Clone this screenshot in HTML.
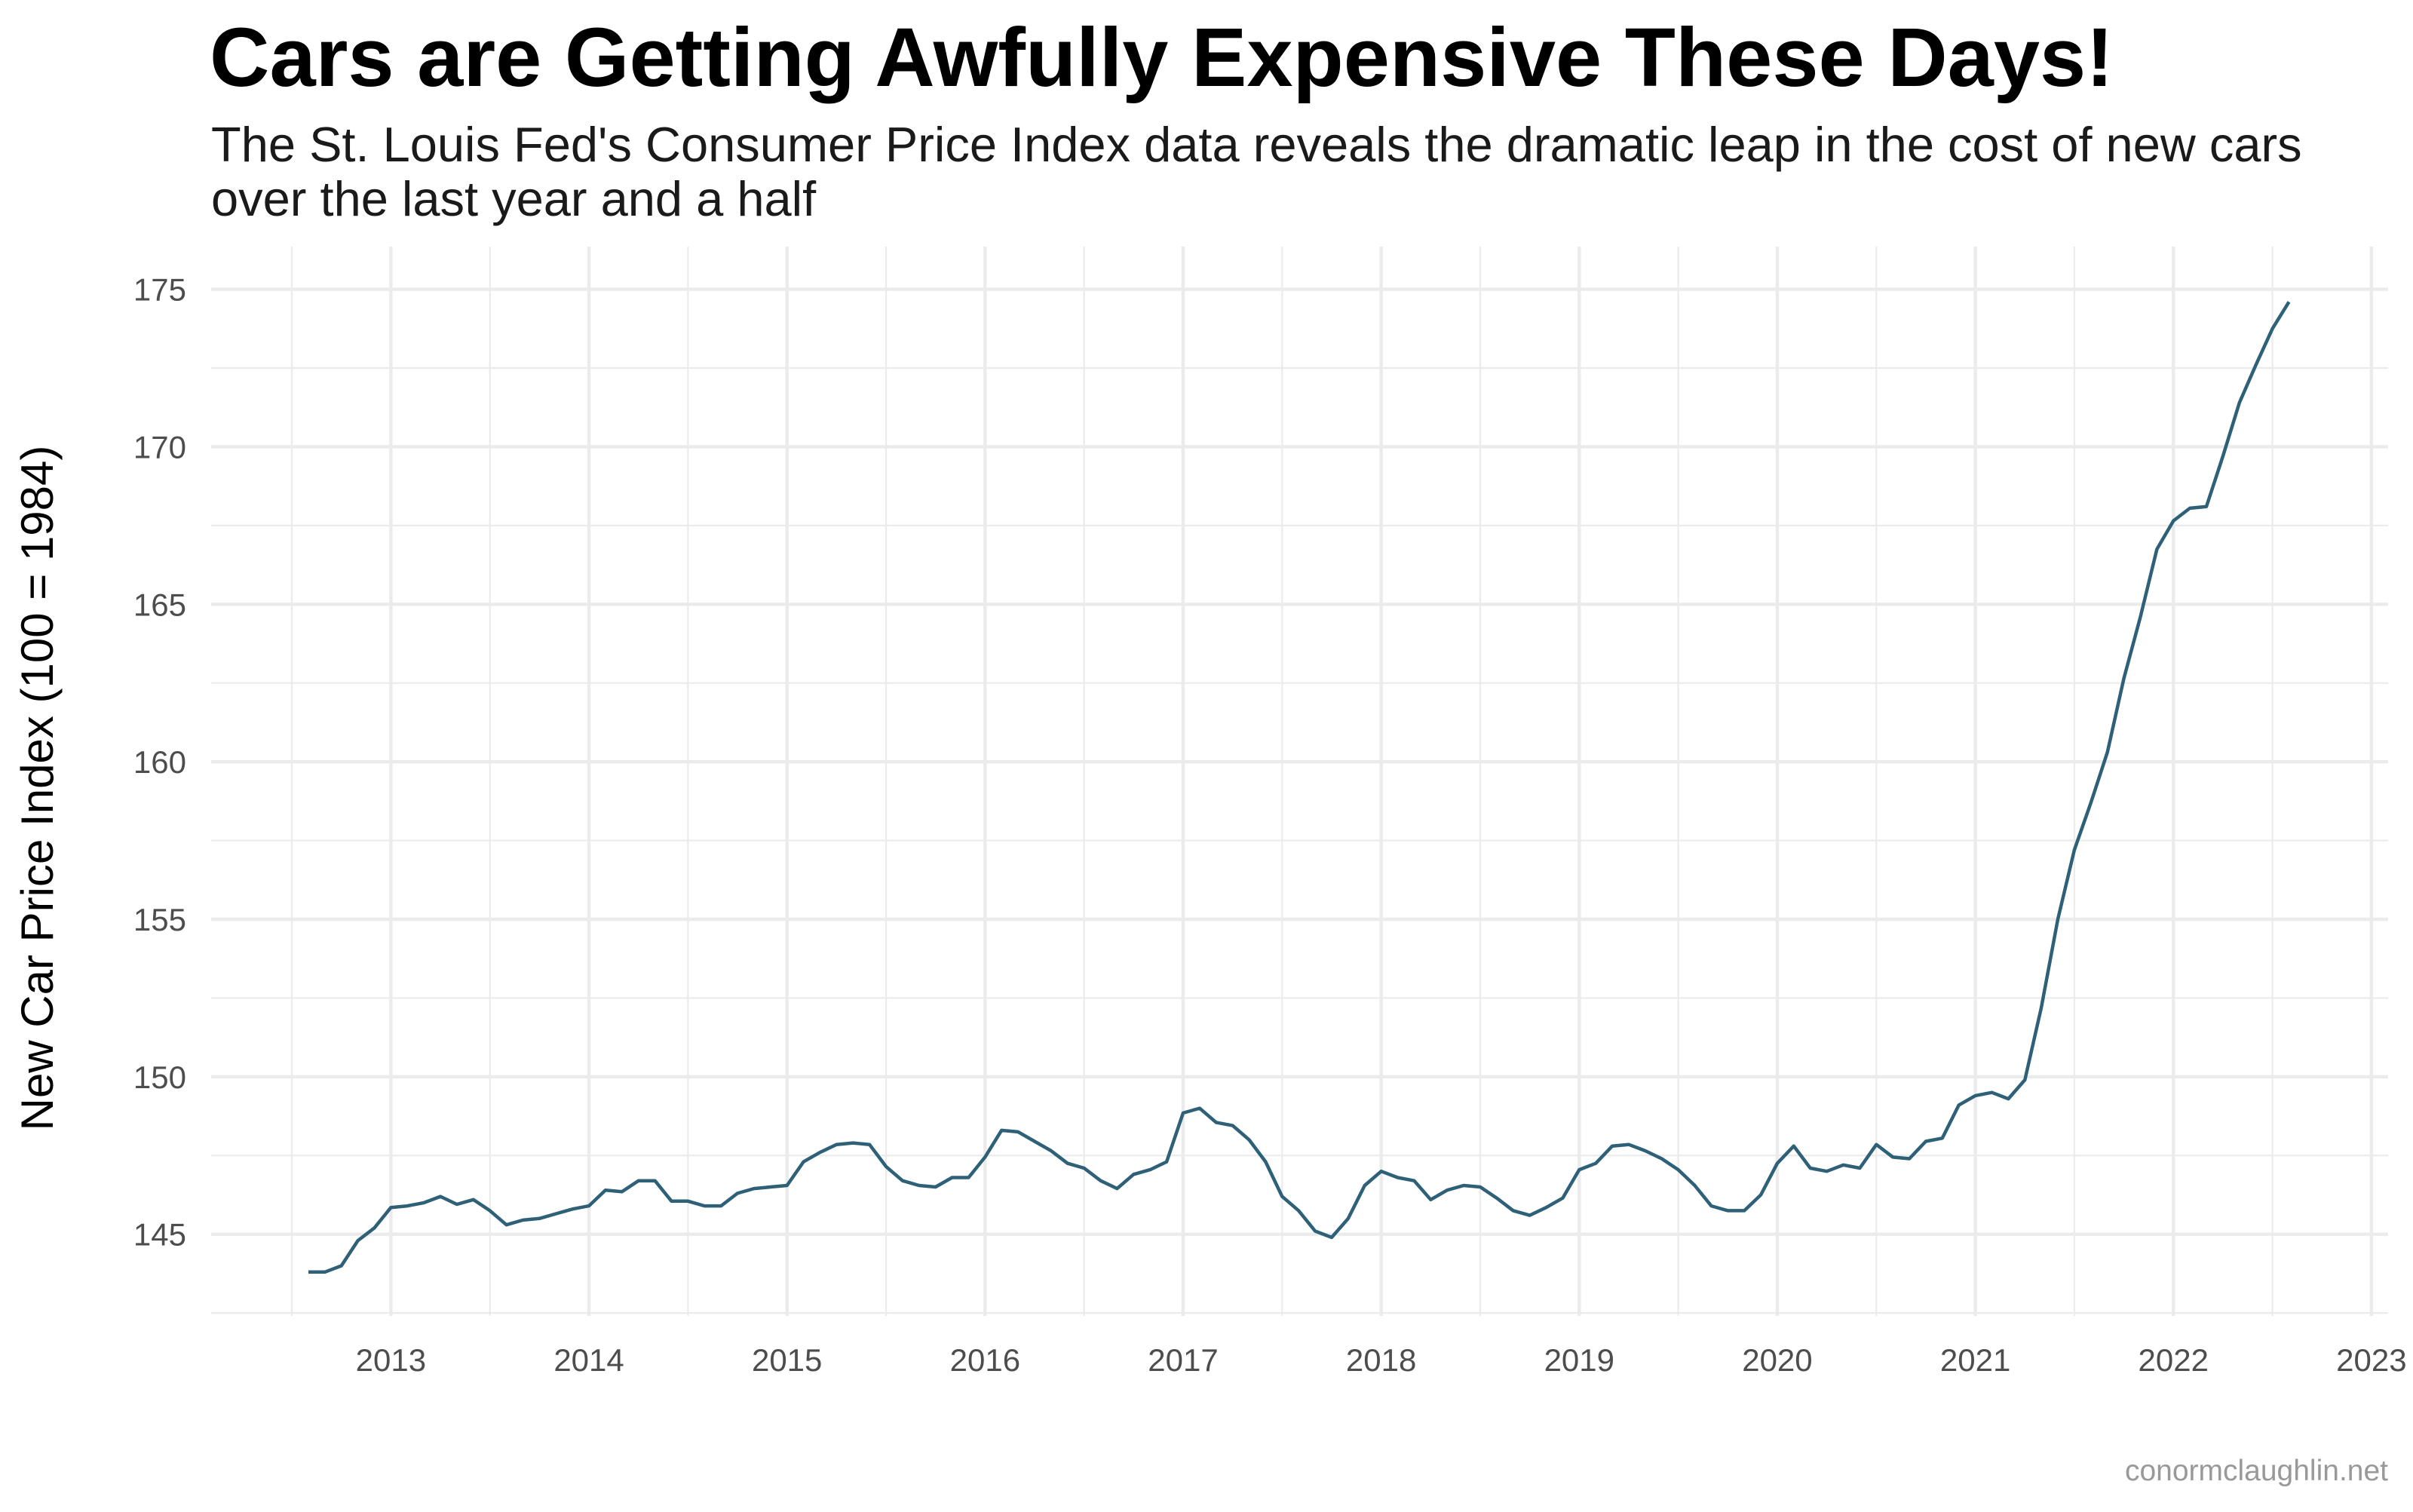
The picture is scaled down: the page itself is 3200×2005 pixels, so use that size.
<!DOCTYPE html>
<html><head><meta charset="utf-8"><style>
html,body{margin:0;padding:0;background:#fff;}
svg text{font-family:"Liberation Sans",Arial,sans-serif;}
</style></head><body>
<svg id="chart" width="3200" height="2000" viewBox="0 0 3200 2000" xmlns="http://www.w3.org/2000/svg">
<rect width="3200" height="2000" fill="#fff"/>
<text x="278" y="114" font-size="110" font-weight="bold" fill="#000">Cars are Getting Awfully Expensive These Days!</text>
<text x="280" y="214" font-size="65" fill="#1a1a1a">The St. Louis Fed's Consumer Price Index data reveals the dramatic leap in the cost of new cars</text>
<text x="280" y="286" font-size="65" fill="#1a1a1a">over the last year and a half</text>
<g id="grid"></g>
<g id="ticks"></g>
<path id="line" fill="none" stroke="#2e6178" stroke-width="4.5" stroke-linejoin="round"/>
<text transform="translate(70,1045) rotate(-90)" text-anchor="middle" font-size="60" fill="#000">New Car Price Index (100 = 1984)</text>
<text x="3167" y="1963" text-anchor="end" font-size="39" fill="#999">conormclaughlin.net</text>
</svg>
<script>
const startYear = 2012, startMonth = 8;
const values = [143.8,143.8,144.0,144.8,145.2,
145.85,145.9,146.0,146.2,145.95,146.1,145.75,145.3,145.45,145.5,145.65,145.8,
145.9,146.4,146.35,146.7,146.7,146.05,146.05,145.9,145.9,146.3,146.45,146.5,
146.55,147.3,147.6,147.85,147.9,147.85,147.15,146.7,146.55,146.5,146.8,146.8,
147.45,148.3,148.25,147.95,147.65,147.25,147.1,146.7,146.45,146.9,147.05,147.3,
148.85,149.0,148.55,148.45,148.0,147.3,146.2,145.75,145.1,144.9,145.5,146.55,
147.0,146.8,146.7,146.1,146.4,146.55,146.5,146.15,145.75,145.6,145.85,146.15,
147.05,147.25,147.8,147.85,147.65,147.4,147.05,146.55,145.9,145.75,145.75,146.25,
147.25,147.8,147.1,147.0,147.2,147.1,147.85,147.45,147.4,147.95,148.05,149.1,
149.4,149.5,149.3,149.9,152.2,155.0,157.2,158.7,160.3,162.65,164.6,166.75,
167.65,168.05,168.1,169.7,171.4,172.6,173.75,174.6];
const yTicks = [145,150,155,160,165,170,175];
const xTicks = [2013,2014,2015,2016,2017,2018,2019,2020,2021,2022,2023];

const L=280,R=3167,T=327,B=1745;
const X = t => 518.4 + (t-2013)*262.65;
const Y = v => 1636.7 - (v-145)*41.77;
const NS='http://www.w3.org/2000/svg';
const grid=document.getElementById('grid'), ticks=document.getElementById('ticks');
function ln(x1,y1,x2,y2,w,name){const l=document.createElementNS(NS,'line');
l.setAttribute('x1',x1);l.setAttribute('y1',y1);l.setAttribute('x2',x2);l.setAttribute('y2',y2);
l.setAttribute('stroke','#ebebeb');l.setAttribute('stroke-width',w);


grid.appendChild(l);}
for(let v=142.5; v<=177.5; v+=5){ if(Y(v)>T && Y(v)<B) ln(L,Y(v),R,Y(v),2.2,'minor-gridline-y'); }
for(let t=2012.5; t<=2023; t+=1){ if(X(t)>L && X(t)<R) ln(X(t),T,X(t),B,2.2,'minor-gridline-x'); }
yTicks.forEach(v=>{ ln(L,Y(v),R,Y(v),4.4,'major-gridline-y');
 const tx=document.createElementNS(NS,'text');tx.setAttribute('x',247);tx.setAttribute('y',Y(v)+15);
 tx.setAttribute('text-anchor','end');tx.setAttribute('font-size','42');tx.setAttribute('fill','#4d4d4d');tx.textContent=v;
 
 
 ticks.appendChild(tx);});
xTicks.forEach(t=>{ ln(X(t),T,X(t),B,4.4,'major-gridline-x');
 const tx=document.createElementNS(NS,'text');tx.setAttribute('x',X(t));tx.setAttribute('y',1818);
 tx.setAttribute('text-anchor','middle');tx.setAttribute('font-size','42');tx.setAttribute('fill','#4d4d4d');tx.textContent=t;
 
 
 ticks.appendChild(tx);});
let d='';
values.forEach((v,i)=>{const t=startYear+(startMonth-1+i)/12; d+=(i?'L':'M')+X(t).toFixed(1)+','+Y(v).toFixed(1);});
document.getElementById('line').setAttribute('d',d);
</script>
</body></html>
